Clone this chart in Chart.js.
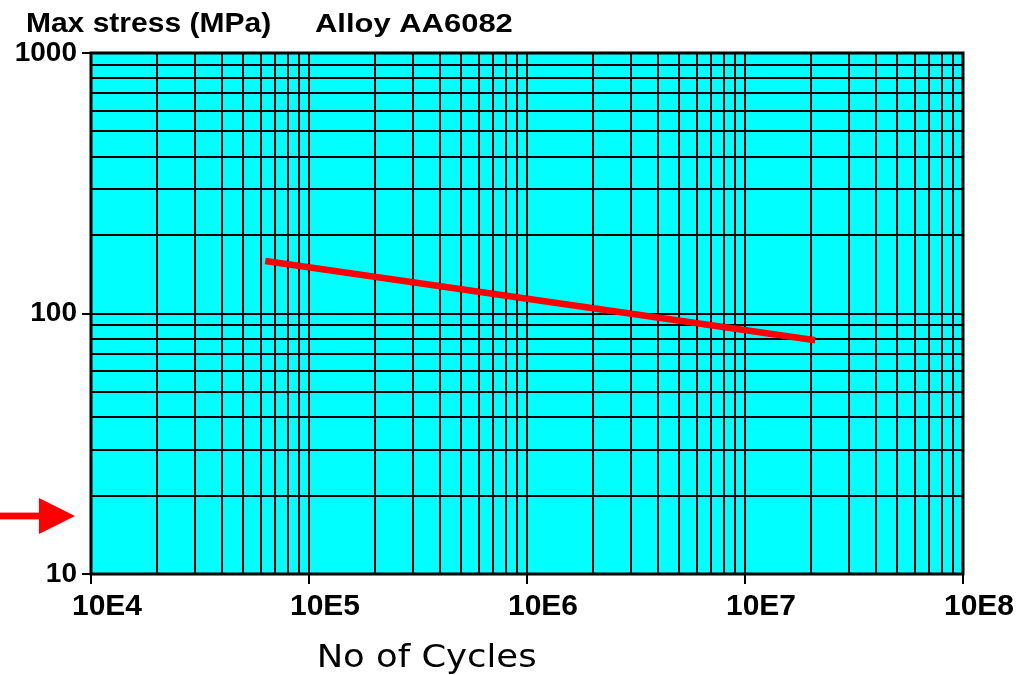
<!DOCTYPE html>
<html>
<head>
<meta charset="utf-8">
<script src="https://cdn.jsdelivr.net/npm/chart.js@4/dist/chart.umd.min.js"></script>
<style>
  html, body { margin: 0; padding: 0; background: #ffffff; }
  canvas { display: block; }
</style>
</head>
<body>
<canvas id="sn" width="1028" height="675"></canvas>
<script>
// S-N (fatigue) curve, aluminium alloy AA6082, log-log axes
const cycles = [63000, 21000000];
const stress = [159, 79];

const xDecades = [1e4, 1e5, 1e6, 1e7, 1e8];
const xTickLabels = ['10E4', '10E5', '10E6', '10E7', '10E8'];
const yDecades = [10, 100, 1000];
const yTickLabels = ['10', '100', '1000'];

// stress level pointed at by the red arrow left of the axis
const markerStress = 16.7;

const yTitle = 'Max stress (MPa)';
const alloyNote = 'Alloy AA6082';
const xTitle = 'No of Cycles';

const PLOT_BG = '#00ffff';
const LINE_RED = '#ff0000';

// grid positions at 1..9 x each decade, closing with the last decade
function logGrid(decades) {
  const out = [];
  decades.forEach((d, i) => {
    if (i === decades.length - 1) { out.push(d); return; }
    for (let m = 1; m <= 9; m++) out.push(d * m);
  });
  return out;
}
const xGrid = logGrid(xDecades);
const yGrid = logGrid(yDecades);

const points = cycles.map((n, i) => ({ x: n, y: stress[i] }));

// draws a text whose ink runs from left to right and whose capitals are capH tall
function fitText(ctx, text, left, right, baseline, capH, weight, family) {
  ctx.save();
  ctx.font = weight + ' 100px ' + family;
  const capRef = ctx.measureText('H').actualBoundingBoxAscent;
  const size = 100 * capH / capRef;
  ctx.font = weight + ' ' + size.toFixed(2) + 'px ' + family;
  ctx.textAlign = 'left';
  ctx.textBaseline = 'alphabetic';
  const m = ctx.measureText(text);
  const ink = m.actualBoundingBoxLeft + m.actualBoundingBoxRight;
  const sx = (right - left) / ink;
  ctx.translate(left, baseline);
  ctx.scale(sx, 1);
  ctx.fillStyle = '#000';
  ctx.fillText(text, m.actualBoundingBoxLeft, 0);
  ctx.restore();
}

const plotDecor = {
  id: 'plotDecor',
  beforeDraw(chart) {
    const { ctx, chartArea: a } = chart;
    ctx.save();
    ctx.fillStyle = PLOT_BG;
    ctx.fillRect(a.left, a.top, a.right - a.left, a.bottom - a.top);
    ctx.restore();
  },
  afterDraw(chart) {
    const { ctx, chartArea: a } = chart;
    ctx.save();
    // heavy frame round the plot
    ctx.strokeStyle = '#000';
    ctx.lineWidth = 3;
    ctx.strokeRect(a.left, a.top, a.right - a.left, a.bottom - a.top);

    // red arrow marker on the stress axis
    const ym = chart.scales.y.getPixelForValue(markerStress);
    ctx.fillStyle = LINE_RED;
    ctx.fillRect(0, ym - 3.4, a.left - 50, 6.8);
    ctx.beginPath();
    ctx.moveTo(a.left - 52, ym - 18);
    ctx.lineTo(a.left - 16, ym);
    ctx.lineTo(a.left - 52, ym + 18);
    ctx.closePath();
    ctx.fill();
    ctx.restore();

    // titles
    fitText(ctx, yTitle, 27, 270, 32, 19, 'bold', '"Liberation Sans", Arial, sans-serif');
    fitText(ctx, alloyNote, 315, 512, 32, 18.5, 'bold', '"Liberation Sans", Arial, sans-serif');
    fitText(ctx, xTitle, 320, 535, 667, 23, 'normal', '"DejaVu Sans", sans-serif');
  }
};

const tickOrNone = (list) => (c) => (c.tick && list.includes(c.tick.value)) ? '#000000' : 'rgba(0,0,0,0)';

new Chart(document.getElementById('sn'), {
  type: 'line',
  data: {
    datasets: [{
      data: points,
      borderColor: LINE_RED,
      borderWidth: 6.5,
      borderCapStyle: 'butt',
      pointRadius: 0,
      fill: false,
      tension: 0
    }]
  },
  options: {
    responsive: false,
    animation: false,
    events: [],
    layout: { padding: { top: 53, right: 65, left: 0, bottom: 0 } },
    plugins: {
      legend: { display: false },
      tooltip: { enabled: false },
      title: { display: false }
    },
    scales: {
      x: {
        type: 'logarithmic',
        min: xDecades[0],
        max: xDecades[xDecades.length - 1],
        afterBuildTicks: (s) => { s.ticks = xGrid.map(v => ({ value: v })); },
        afterFit: (s) => { s.height = 101; },
        border: { display: false },
        grid: {
          color: '#000000',
          lineWidth: 2,
          drawTicks: true,
          tickLength: 10,
          tickWidth: 2,
          tickColor: tickOrNone(xDecades)
        },
        ticks: {
          autoSkip: false,
          maxRotation: 0,
          minRotation: 0,
          padding: 5,
          labelOffset: 16,
          color: '#000000',
          font: { family: '"Liberation Sans", Arial, sans-serif', size: 30, weight: 'bold' },
          callback: (v) => { const i = xDecades.indexOf(v); return i >= 0 ? xTickLabels[i] : ''; }
        }
      },
      y: {
        type: 'logarithmic',
        min: yDecades[0],
        max: yDecades[yDecades.length - 1],
        afterBuildTicks: (s) => { s.ticks = yGrid.map(v => ({ value: v })); },
        afterFit: (s) => { s.width = 91; },
        border: { display: false },
        grid: {
          color: '#000000',
          lineWidth: 2,
          drawTicks: true,
          tickLength: 9,
          tickWidth: 2,
          tickColor: tickOrNone(yDecades)
        },
        ticks: {
          autoSkip: false,
          padding: 5,
          color: '#000000',
          font: { family: '"Liberation Sans", Arial, sans-serif', size: 28, weight: 'bold' },
          callback: (v) => { const i = yDecades.indexOf(v); return i >= 0 ? yTickLabels[i] : ''; }
        }
      }
    }
  },
  plugins: [plotDecor]
});
</script>
</body>
</html>
